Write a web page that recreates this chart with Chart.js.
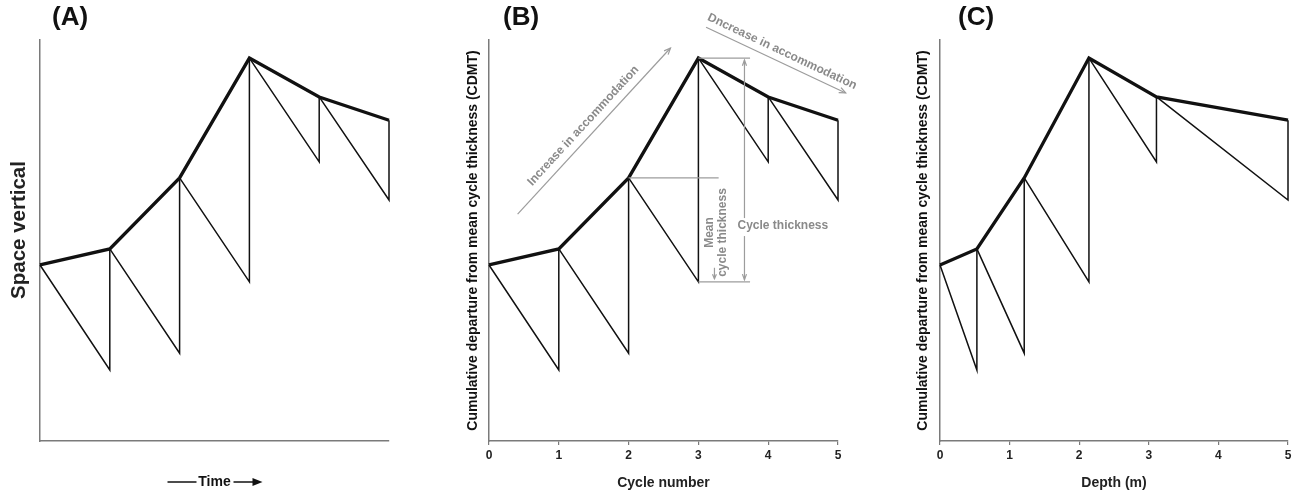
<!DOCTYPE html>
<html><head><meta charset="utf-8">
<script src="https://cdn.jsdelivr.net/npm/chart.js@4.4.1/dist/chart.umd.min.js"></script>
<style>
html,body{margin:0;padding:0;background:#fff;}
#wrap{position:relative;width:1302px;height:495px;overflow:hidden;background:#fff;}
canvas{position:absolute;top:0;}
</style></head><body>
<div id="wrap">
<canvas id="cA" width="440" height="495" style="left:0px"></canvas>
<canvas id="cB" width="430" height="495" style="left:450px"></canvas>
<canvas id="cC" width="402" height="495" style="left:900px"></canvas>
</div>
<script>
// ---------------- data ----------------
const panelLabels = ['(A)', '(B)', '(C)'];
const timeSteps   = [0, 1, 2, 3, 4, 5];            // panel A (unlabelled time axis)
const cycleNumber = [0, 1, 2, 3, 4, 5];            // panel B
const depthM      = [0, 0.53, 1.21, 2.14, 3.11, 5.0]; // panel C
const cdmt        = [4.39, 4.79, 6.56, 9.55, 8.58, 8.00];   // CDMT curve
const cycleBase   = [null, 1.77, 2.19, 3.97, 6.96, 6.01];  // low point of each sawtooth
const xTickValues = [0, 1, 2, 3, 4, 5];

// ---------------- styles ----------------
const FONT = '"Liberation Sans", Arial, Helvetica, sans-serif';
const AXIS = '#7a7a7a';
const ANN_LINE = '#9c9c9c';
const ANN_TEXT = '#8a8a8a';

function buildDatasets(xs) {
  const ds = [{
    data: xs.map((x, i) => ({x: x, y: cdmt[i]})),
    showLine: true, borderColor: '#111', borderWidth: 3.3, pointRadius: 0, clip: false
  }];
  for (let i = 1; i < xs.length; i++) {
    ds.push({
      data: [{x: xs[i-1], y: cdmt[i-1]}, {x: xs[i], y: cycleBase[i]}, {x: xs[i], y: cdmt[i]}],
      showLine: true, borderColor: '#111', borderWidth: 1.5, pointRadius: 0, clip: false
    });
  }
  return ds;
}

function P(chart, x, y) { return [chart.scales.x.getPixelForValue(x), chart.scales.y.getPixelForValue(y)]; }
function seg(ctx, a, b) { ctx.beginPath(); ctx.moveTo(a[0], a[1]); ctx.lineTo(b[0], b[1]); ctx.stroke(); }
function vHead(ctx, from, to, len, ang) {
  len = len || 7; ang = ang || 0.4;
  const a = Math.atan2(to[1]-from[1], to[0]-from[0]);
  ctx.beginPath();
  ctx.moveTo(to[0]-len*Math.cos(a-ang), to[1]-len*Math.sin(a-ang));
  ctx.lineTo(to[0], to[1]);
  ctx.lineTo(to[0]-len*Math.cos(a+ang), to[1]-len*Math.sin(a+ang));
  ctx.stroke();
}
function txt(ctx, s, x, y, font, color, rot, align) {
  ctx.save(); ctx.translate(x, y); ctx.rotate(rot || 0);
  ctx.font = font; ctx.fillStyle = color; ctx.textAlign = align || 'center'; ctx.textBaseline = 'middle';
  ctx.fillText(s, 0, 0); ctx.restore();
}
function panelLabelPlugin(label, x) {
  return {id: 'pl', afterDraw(chart) { txt(chart.ctx, label, x, 18, 'bold 26px ' + FONT, '#111', 0, 'left'); }};
}

function makeChart(id, xs, o) {
  return new Chart(document.getElementById(id), {
    type: 'scatter',
    data: {datasets: buildDatasets(xs)},
    options: {
      responsive: false, animation: false, devicePixelRatio: 1,
      layout: {padding: {left: 0, right: o.padRight, top: 40, bottom: 0}},
      plugins: {legend: {display: false}, tooltip: {enabled: false}, title: {display: false}},
      scales: {
        x: {
          type: 'linear', min: 0, max: 5,
          afterFit(s) { s.height = 54; },
          afterBuildTicks(s) { s.ticks = xTickValues.map(v => ({value: v})); },
          ticks: {display: o.showTicks, font: {family: FONT, size: 12, weight: 'bold'}, color: '#222', padding: 3},
          grid: {display: o.showTicks, drawOnChartArea: false, drawTicks: true, tickLength: 4, color: AXIS, lineWidth: 1.2},
          border: {display: true, color: AXIS, width: 1.5},
          title: {display: !!o.xTitle, text: o.xTitle || '', font: {family: FONT, size: 14, weight: 'bold'}, color: '#222', padding: {top: 0, bottom: 3.6}}
        },
        y: {
          type: 'linear', min: 0, max: 10,
          afterFit(s) { s.width = o.yWidth; },
          ticks: {display: false},
          grid: {display: false},
          border: {display: true, color: AXIS, width: 1.5},
          title: {display: !!o.yTitle, text: o.yTitle || '', font: {family: FONT, size: 14, weight: 'bold'}, color: '#111', padding: {top: o.yTitlePad || 0, bottom: 0}}
        }
      }
    },
    plugins: o.plugins
  });
}

// Panel A
makeChart('cA', timeSteps, {
  padRight: 51, yWidth: 40, showTicks: false,
  plugins: [panelLabelPlugin(panelLabels[0], 52), {
    id: 'aText',
    afterDraw(chart) {
      const ctx = chart.ctx, ca = chart.chartArea;
      txt(ctx, 'Space vertical', 19, 230, 'bold 20.5px ' + FONT, '#222', -Math.PI/2);
      const cx = (ca.left + ca.right) / 2, y = 482;
      txt(ctx, 'Time', cx, y, 'bold 14px ' + FONT, '#111');
      ctx.save(); ctx.strokeStyle = '#111'; ctx.fillStyle = '#111'; ctx.lineWidth = 1.5;
      seg(ctx, [cx-47, y], [cx-18, y]);
      seg(ctx, [cx+19, y], [cx+40, y]);
      ctx.beginPath(); ctx.moveTo(cx+48, y); ctx.lineTo(cx+38, y-4); ctx.lineTo(cx+38, y+4); ctx.closePath(); ctx.fill();
      ctx.restore();
    }
  }]
});

// Panel B
makeChart('cB', cycleNumber, {
  padRight: 42, yWidth: 39, showTicks: true, xTitle: 'Cycle number',
  yTitle: 'Cumulative departure from mean cycle thickness (CDMT)', yTitlePad: 14.6,
  plugins: [panelLabelPlugin(panelLabels[1], 53), {
    id: 'bAnn',
    afterDraw(chart) {
      const ctx = chart.ctx;
      ctx.save(); ctx.strokeStyle = ANN_LINE; ctx.lineWidth = 1.2;
      // reference lines
      seg(ctx, P(chart, 2, cdmt[2]), P(chart, 3.29, cdmt[2]));
      seg(ctx, P(chart, 3, cdmt[3]), P(chart, 3.74, cdmt[3]));
      seg(ctx, P(chart, 3, cycleBase[3]), P(chart, 3.74, cycleBase[3]));
      // cycle thickness double arrow
      const top = P(chart, 3.66, cdmt[3]), bot = P(chart, 3.66, cycleBase[3]), mid = P(chart, 4.21, 5.36);
      seg(ctx, [top[0], top[1]+2], [top[0], mid[1]-8]); vHead(ctx, [top[0], mid[1]], [top[0], top[1]+2], 6, 0.35);
      seg(ctx, [bot[0], mid[1]+10], [bot[0], bot[1]-2]); vHead(ctx, [bot[0], mid[1]], [bot[0], bot[1]-2], 6, 0.35);
      // mean cycle thickness small arrow
      const ma = P(chart, 3.23, 4.32), mb = P(chart, 3.23, cycleBase[3]);
      seg(ctx, ma, [mb[0], mb[1]-3]); vHead(ctx, ma, [mb[0], mb[1]-3], 5, 0.4);
      // accommodation arrows
      const i0 = P(chart, 0.41, 5.66), i1 = P(chart, 2.60, 9.80);
      seg(ctx, i0, i1); vHead(ctx, i0, i1, 7, 0.4);
      const d0 = P(chart, 3.11, 10.32), d1 = P(chart, 5.11, 8.68);
      seg(ctx, d0, d1); vHead(ctx, d0, d1, 7, 0.4);
      ctx.restore();
      const f = 'bold 12px ' + FONT;
      txt(ctx, 'Cycle thickness', mid[0], mid[1], f, ANN_TEXT);
      const mt = P(chart, 3.26, 5.2);
      txt(ctx, 'Mean', mt[0]-6.5, mt[1], f, ANN_TEXT, -Math.PI/2);
      txt(ctx, 'cycle thickness', mt[0]+6.5, mt[1], f, ANN_TEXT, -Math.PI/2);
      const it = P(chart, 1.35, 7.86);
      txt(ctx, 'Increase in accommodation', it[0], it[1], f, ANN_TEXT, Math.atan2(i1[1]-i0[1], i1[0]-i0[0]));
      const dt = P(chart, 4.20, 9.71);
      txt(ctx, 'Dncrease in accommodation', dt[0], dt[1], f, ANN_TEXT, Math.atan2(d1[1]-d0[1], d1[0]-d0[0]));
    }
  }]
});

// Panel C
makeChart('cC', depthM, {
  padRight: 14, yWidth: 40, showTicks: true, xTitle: 'Depth (m)',
  yTitle: 'Cumulative departure from mean cycle thickness (CDMT)', yTitlePad: 14.3,
  plugins: [panelLabelPlugin(panelLabels[2], 58)]
});
</script>
</body></html>
